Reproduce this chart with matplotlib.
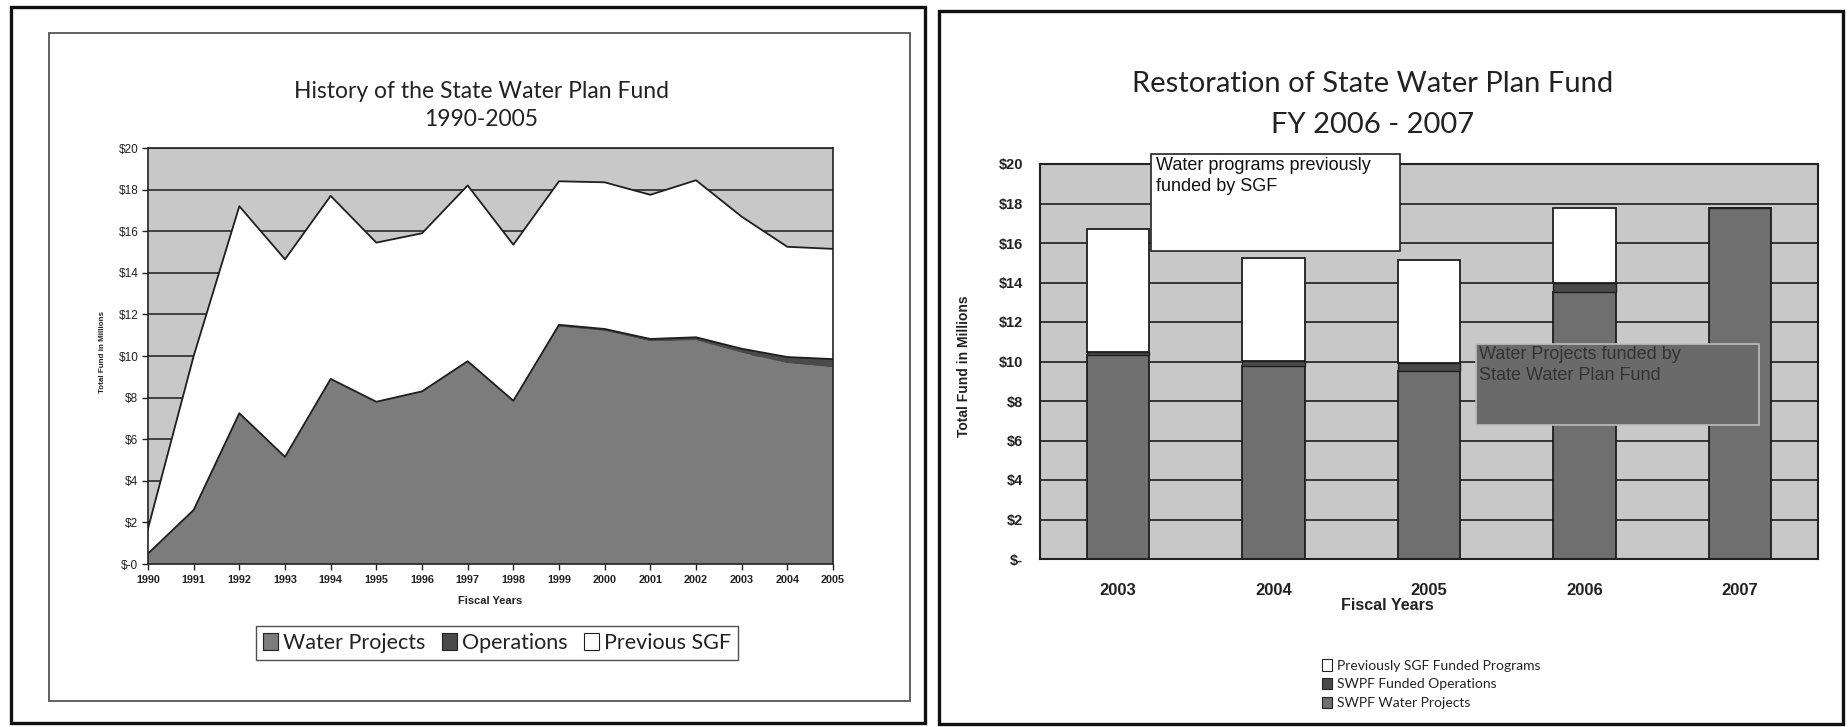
import matplotlib
matplotlib.use("Agg")
import matplotlib.pyplot as plt
from matplotlib.patches import Rectangle, Patch
import numpy as np

# ---------------- data: left chart (History 1990-2005) ----------------
years = list(range(1990, 2006))
water_projects = [0.5, 2.6, 7.25, 5.15, 8.9, 7.8, 8.3, 9.75, 7.85, 11.4, 11.2, 10.7, 10.75, 10.15, 9.65, 9.45]
operations = [0, 0, 0, 0, 0, 0, 0, 0, 0, 0.1, 0.1, 0.12, 0.15, 0.2, 0.3, 0.4]
previous_sgf = [1.2, 7.4, 9.95, 9.5, 8.8, 7.65, 7.6, 8.45, 7.5, 6.9, 7.05, 6.93, 7.55, 6.35, 5.3, 5.3]
left_yticks = [0, 2, 4, 6, 8, 10, 12, 14, 16, 18, 20]
left_ytick_labels = ["$-0", "$2", "$4", "$6", "$8", "$10", "$12", "$14", "$16", "$18", "$20"]
left_legend_labels = ["Water Projects", "Operations", "Previous SGF"]

# ---------------- data: right chart (Restoration FY 2006-2007) ----------------
fiscal_years = ["2003", "2004", "2005", "2006", "2007"]
swpf_water_projects = [10.35, 9.75, 9.5, 13.5, 17.75]
swpf_operations = [0.15, 0.3, 0.4, 0.45, 0.0]
prev_sgf_programs = [6.2, 5.2, 5.25, 3.8, 0.0]
right_yticks = [0, 2, 4, 6, 8, 10, 12, 14, 16, 18, 20]
right_ytick_labels = ["$-", "$2", "$4", "$6", "$8", "$10", "$12", "$14", "$16", "$18", "$20"]
right_legend_labels = ["Previously SGF Funded Programs", "SWPF Funded Operations", "SWPF Water Projects"]

# ---------------- styling ----------------
W, H = 1849, 727
BG_PLOT = "#c8c8c8"
MID = "#7c7c7c"
DARK = "#4a4a4a"
BAR_MID = "#6f6f6f"
LINE = "#1e1e1e"
SANS = ["Liberation Sans", "DejaVu Sans"]
TITLE = ["Lato", "DejaVu Sans"]

fig = plt.figure(figsize=(W / 100, H / 100), dpi=100)


def px_axes(x0, y0, x1, y1):
    return fig.add_axes([x0 / W, 1 - y1 / H, (x1 - x0) / W, (y1 - y0) / H])


def fx(x):
    return x / W


def fy(y):
    return 1 - y / H


# page frames
bg = fig.add_axes([0, 0, 1, 1])
bg.set_xlim(0, W)
bg.set_ylim(H, 0)
bg.axis("off")
bg.set_zorder(-10)
bg.add_patch(Rectangle((11, 7), 914, 716, fill=False, lw=2.4, ec="#111111"))
bg.add_patch(Rectangle((49, 33), 861, 668, fill=False, lw=1.3, ec="#555555"))
bg.add_patch(Rectangle((939, 11), 904, 713, fill=False, lw=2.4, ec="#111111"))

# ---------------- left chart ----------------
ax1 = px_axes(148, 148, 833, 564)
ax1.set_facecolor(BG_PLOT)
wp = np.array(water_projects)
op = np.array(operations)
sg = np.array(previous_sgf)
ax1.stackplot(years, wp, op, sg, colors=[MID, DARK, "white"], lw=0, zorder=2)
ax1.plot(years, wp + op, color=LINE, lw=1.3, zorder=3)
ax1.plot(years, wp + op + sg, color=LINE, lw=1.3, zorder=3)
ax1.set_xlim(years[0], years[-1])
ax1.set_ylim(0, 20)
ax1.set_axisbelow(True)
ax1.yaxis.grid(True, color="#2a2a2a", lw=1.2)
ax1.set_xticks(years)
ax1.set_xticklabels([str(y) for y in years], fontsize=7.8, family=SANS, fontweight="bold", color="#222")
ax1.set_yticks(left_yticks)
ax1.set_yticklabels(left_ytick_labels, fontsize=8.5, family=SANS, color="#222")
ax1.tick_params(axis="both", length=4, width=1, color="#222")
ax1.tick_params(axis="y", pad=3)
ax1.tick_params(axis="x", pad=4)
for s in ax1.spines.values():
    s.set_color("#222")
    s.set_linewidth(1.2)

fig.text(fx(481), fy(91), "History of the State Water Plan Fund", ha="center", va="center",
         fontsize=16.5, family=TITLE, color="#222")
fig.text(fx(481), fy(119), "1990-2005", ha="center", va="center", fontsize=16.5, family=TITLE, color="#222")
fig.text(fx(103), fy(352), "Total Fund in Millions", rotation=90, ha="center", va="center",
         fontsize=5.8, family=SANS, fontweight="bold", color="#222")
fig.text(fx(490), fy(601), "Fiscal Years", ha="center", va="center", fontsize=8,
         family=SANS, fontweight="bold", color="#222")

left_handles = [Patch(facecolor=c, edgecolor="#222", lw=0.8) for c in [MID, DARK, "white"]]
leg1 = fig.legend(left_handles, left_legend_labels, loc="center", bbox_to_anchor=(fx(497), fy(643)),
                  ncol=3, frameon=True, fancybox=False, edgecolor="#222",
                  prop={"family": TITLE, "size": 15.5}, handlelength=0.7, handleheight=0.85,
                  handletextpad=0.25, columnspacing=0.75, borderpad=0.32, borderaxespad=0)
leg1.get_frame().set_linewidth(1.0)
for t in leg1.get_texts():
    t.set_color("#222")

# ---------------- right chart ----------------
ax2 = px_axes(1040, 164, 1818, 559)
ax2.set_facecolor(BG_PLOT)
x = np.arange(len(fiscal_years))
p1 = np.array(swpf_water_projects)
p2 = np.array(swpf_operations)
p3 = np.array(prev_sgf_programs)
bw = 0.4
ax2.bar(x, p1, bw, color=BAR_MID, edgecolor=LINE, lw=1.3, zorder=2)
ax2.bar(x, p2, bw, bottom=p1, color=DARK, edgecolor=LINE, lw=1.0, zorder=2)
ax2.bar(x, p3, bw, bottom=p1 + p2, color="white", edgecolor=LINE, lw=1.3, zorder=2)
ax2.set_xlim(-0.5, len(fiscal_years) - 0.5)
ax2.set_ylim(0, 20)
ax2.set_axisbelow(True)
ax2.yaxis.grid(True, color="#2a2a2a", lw=1.3)
ax2.set_xticks(x)
ax2.set_xticklabels(fiscal_years, fontsize=12, family=SANS, fontweight="bold", color="#222")
ax2.set_yticks(right_yticks)
ax2.set_yticklabels(right_ytick_labels, fontsize=10.5, family=SANS, fontweight="bold", color="#222")
ax2.tick_params(axis="both", length=0)
ax2.tick_params(axis="y", pad=12)
ax2.tick_params(axis="x", pad=17)
for s in ax2.spines.values():
    s.set_color("#222")
    s.set_linewidth(1.5)

# annotation boxes (axes fraction)
ax2.add_patch(Rectangle((0.143, 0.78), 0.32, 0.245, transform=ax2.transAxes, facecolor="white",
                        edgecolor="#222", lw=1.2, clip_on=False, zorder=5))
ax2.text(0.149, 1.017, "Water programs previously\nfunded by SGF", transform=ax2.transAxes,
         ha="left", va="top", fontsize=13, family=SANS, color="#111", linespacing=1.3, zorder=6)
ax2.add_patch(Rectangle((0.560, 0.339), 0.364, 0.205, transform=ax2.transAxes, facecolor="#6a6a6a",
                        edgecolor="#bdbdbd", lw=1.2, clip_on=False, zorder=5))
ax2.text(0.564, 0.538, "Water Projects funded by\nState Water Plan Fund", transform=ax2.transAxes,
         ha="left", va="top", fontsize=13, family=SANS, color="#333", linespacing=1.3, zorder=6)

fig.text(fx(1373), fy(84), "Restoration of State Water Plan Fund", ha="center", va="center",
         fontsize=21, family=TITLE, color="#222")
fig.text(fx(1373), fy(125), "FY 2006 - 2007", ha="center", va="center", fontsize=21, family=TITLE, color="#222")
fig.text(fx(964), fy(366), "Total Fund in Millions", rotation=90, ha="center", va="center",
         fontsize=10, family=SANS, fontweight="bold", color="#222")
fig.text(fx(1387), fy(605), "Fiscal Years", ha="center", va="center", fontsize=11.5,
         family=SANS, fontweight="bold", color="#222")

right_handles = [Patch(facecolor=c, edgecolor="#222", lw=0.8) for c in ["white", DARK, BAR_MID]]
leg2 = fig.legend(right_handles, right_legend_labels, loc="upper left", bbox_to_anchor=(fx(1322), fy(659)),
                  ncol=1, frameon=False, prop={"family": TITLE, "size": 10},
                  handlelength=0.75, handleheight=0.9, handletextpad=0.3, labelspacing=0.45,
                  borderpad=0, borderaxespad=0)
for t in leg2.get_texts():
    t.set_color("#222")

fig.savefig("out.png", dpi=100)
